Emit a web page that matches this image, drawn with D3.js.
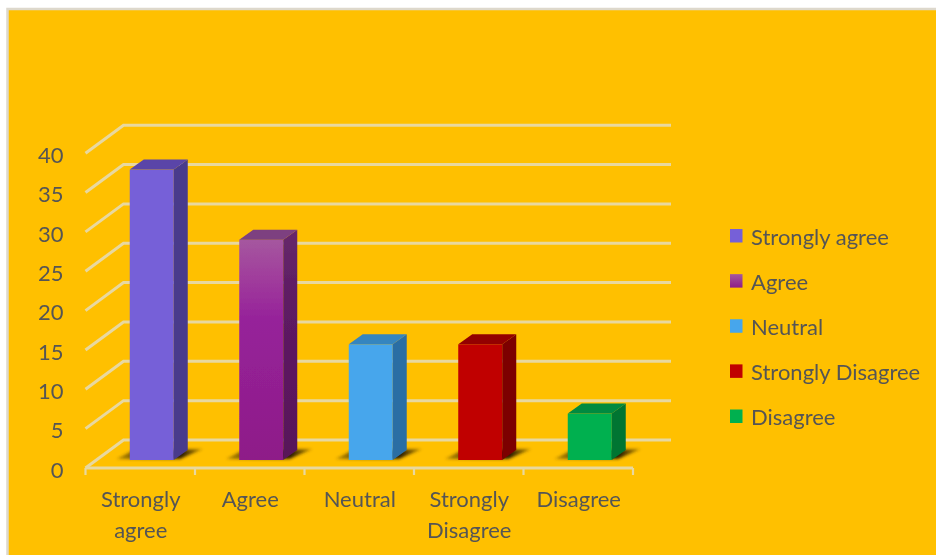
<!DOCTYPE html>
<html>
<head>
<meta charset="utf-8">
<script src="https://cdn.jsdelivr.net/npm/d3@7"></script>
<style>
html,body{margin:0;padding:0;background:#fff;overflow:hidden}
svg{display:block}
text{font-family:Lato,"Open Sans",sans-serif;fill:#555555}
</style>
</head>
<body>
<div id="chart"></div>
<script>
const categories = ["Strongly agree", "Agree", "Neutral", "Strongly Disagree", "Disagree"];
const axisLabels = [["Strongly", "agree"], ["Agree"], ["Neutral"], ["Strongly", "Disagree"], ["Disagree"]];
const values = [36.9, 28, 14.7, 14.7, 5.9];
const yTicks = [0, 5, 10, 15, 20, 25, 30, 35, 40];
const frontColors = ["#7660D8", "url(#agreeFront)", "#46A6EC", "#C00000", "#00B050"];
const sideColors = ["#4A3A8C", "url(#agreeSide)", "#2C6EA4", "#7C0000", "#007432"];
const topColors = ["#5A45A8", "#7D3F80", "#3585BF", "#930000", "#008A40"];
const legendColors = ["#7660D8", "url(#agreeLegend)", "#46A6EC", "#C00000", "#00B050"];

const W = 936, H = 555;
const svg = d3.select("#chart").append("svg").attr("width", W).attr("height", H);
const defs = svg.append("defs");

function grad(id, horizontal, stops) {
  const g = defs.append("linearGradient").attr("id", id)
    .attr("x1", 0).attr("y1", 0).attr("x2", horizontal ? 1 : 0).attr("y2", horizontal ? 0 : 1);
  stops.forEach(s => g.append("stop").attr("offset", s[0]).attr("stop-color", s[1]).attr("stop-opacity", s[2] === undefined ? 1 : s[2]));
}
grad("agreeFront", false, [[0, "#A5579F"], [0.18, "#A03C9C"], [0.36, "#96229A"], [1, "#8E1C88"]]);
grad("agreeSide", false, [[0, "#67296A"], [0.3, "#5E1B64"], [1, "#581259"]]);
grad("agreeLegend", false, [[0, "#A5579F"], [1, "#8E1C88"]]);
grad("floorShadow", true, [[0, "#3A2A00", 0.35], [0.3, "#3A2A00", 0.8], [0.75, "#2A1E00", 1], [1, "#3A2A00", 0.35]]);
defs.append("filter").attr("id", "soft").attr("x", "-5%").attr("y", "-5%").attr("width", "110%").attr("height", "110%")
  .append("feGaussianBlur").attr("stdDeviation", 0.6);
defs.append("filter").attr("id", "shadowBlur").attr("x", "-30%").attr("y", "-60%").attr("width", "160%").attr("height", "220%")
  .append("feGaussianBlur").attr("stdDeviation", 1.5);

// Background panel
svg.append("rect").attr("x", 7.5).attr("y", 9).attr("width", W).attr("height", H)
  .attr("fill", "#FFC000").attr("stroke", "#DDD8CC").attr("stroke-width", 2.5);

const plot = svg.append("g").attr("filter", "url(#soft)");

const x = d3.scaleBand().domain(categories).range([85.5, 633]);
const y = d3.scaleLinear().domain([0, 40]).range([468, 153.2]);
const depth = {dx: 38, dy: -28};
const barInset = {dx: 11.5, dy: -8};
const barDepth = {dx: 14, dy: -10};
const barWidth = 44;

// Gridlines: front-left slant then along the back wall
const gridCol = "#E8D8A0";
plot.append("g").selectAll("path").data(yTicks).join("path")
  .attr("fill", "none").attr("stroke", gridCol).attr("stroke-width", 3)
  .attr("d", v => `M${x.range()[0]},${y(v)}L${x.range()[0] + depth.dx},${y(v) + depth.dy}L${x.range()[1] + depth.dx},${y(v) + depth.dy}`);

// Category axis along the floor's front edge
plot.append("path").attr("fill", "none").attr("stroke", gridCol).attr("stroke-width", 3)
  .attr("d", `M${x.range()[0]},${y(0)}L${x.range()[1]},${y(0)}`);
const tickPos = categories.map(c => x(c)).concat([x.range()[1]]);
plot.append("g").selectAll("line").data(tickPos).join("line")
  .attr("x1", d => d).attr("x2", d => d).attr("y1", y(0)).attr("y2", y(0) + 7)
  .attr("stroke", gridCol).attr("stroke-width", 2.2);

// Bars
const bars = plot.append("g").selectAll("g").data(categories).join("g");
const bx = c => x(c) + (x.bandwidth() - barWidth) / 2 + barInset.dx;
const baseY = y(0) + barInset.dy;
const topY = i => baseY - (y(0) - y(values[i]));

bars.append("path") // floor shadow
  .attr("fill", "url(#floorShadow)").attr("filter", "url(#shadowBlur)")
  .attr("d", c => {
    const l = bx(c), r = l + barWidth;
    return `M${l - 13},${baseY - 1}L${l + 2},${baseY - 9}L${r + 29},${baseY - 11}L${r + 6},${baseY - 1}Z`;
  });
bars.append("rect") // front
  .attr("x", bx).attr("y", (c, i) => topY(i)).attr("width", barWidth)
  .attr("height", (c, i) => baseY - topY(i)).attr("fill", (c, i) => frontColors[i]);
bars.append("path") // side
  .attr("fill", (c, i) => sideColors[i])
  .attr("d", (c, i) => {
    const r = bx(c) + barWidth;
    return `M${r},${topY(i)}L${r + barDepth.dx},${topY(i) + barDepth.dy}L${r + barDepth.dx},${baseY + barDepth.dy}L${r},${baseY}Z`;
  });
bars.append("path") // top
  .attr("fill", (c, i) => topColors[i])
  .attr("d", (c, i) => {
    const l = bx(c), t = topY(i);
    return `M${l},${t}L${l + barDepth.dx},${t + barDepth.dy}L${l + barWidth + barDepth.dx},${t + barDepth.dy}L${l + barWidth},${t}Z`;
  });

// Text
const labels = svg.append("g").attr("filter", "url(#soft)");
labels.append("g").selectAll("text").data(yTicks).join("text")
  .attr("x", 63.5).attr("y", v => y(v) + 2).attr("dy", "0.35em")
  .attr("text-anchor", "end").attr("font-size", 22).text(d => d);

labels.append("g").selectAll("text").data(categories).join("text")
  .attr("text-anchor", "middle").attr("font-size", 22)
  .each(function (c, i) {
    d3.select(this).selectAll("tspan").data(axisLabels[i]).join("tspan")
      .attr("x", x(c) + x.bandwidth() / 2 + 0.5)
      .attr("y", (d, k) => 507 + k * 31)
      .text(d => d);
  });

// Legend
const legendRow = d3.scalePoint().domain(categories).range([236, 416.5]);
const legend = labels.append("g").selectAll("g").data(categories).join("g");
legend.append("rect").attr("x", 730).attr("y", c => legendRow(c) - 7).attr("width", 12.5).attr("height", 13.5)
  .attr("fill", (c, i) => legendColors[i]);
legend.append("text").attr("x", 751).attr("y", c => legendRow(c) + 1).attr("dy", "0.35em")
  .attr("font-size", 22).text(c => c);
</script>
</body>
</html>
